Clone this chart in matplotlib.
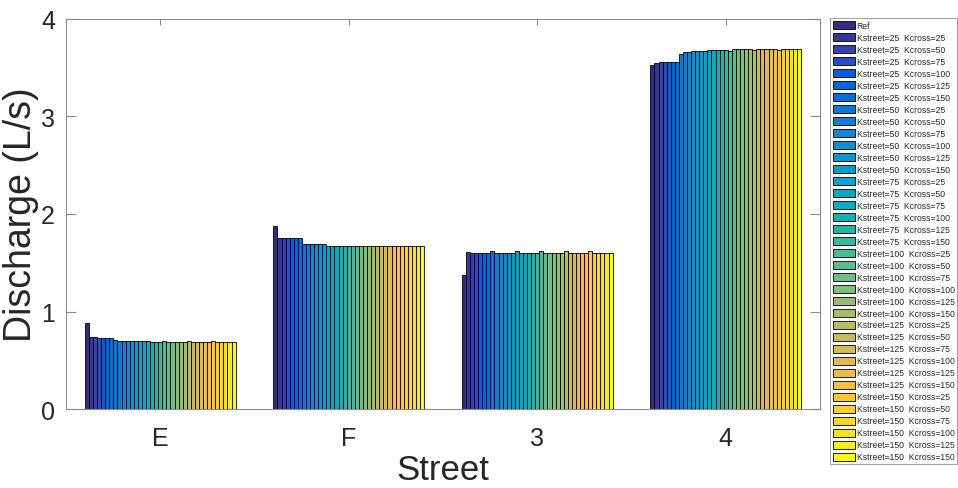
import numpy as np
import matplotlib
matplotlib.use("Agg")
import matplotlib.pyplot as plt
from matplotlib.colors import LinearSegmentedColormap

plt.rcParams['font.family'] = ['Liberation Sans', 'DejaVu Sans']

streets = ['E', 'F', '3', '4']
kstreet = [25, 50, 75, 100, 125, 150]
kcross = [25, 50, 75, 100, 125, 150]
series_labels = ['Ref'] + [f'Kstreet={s}  Kcross={c}' for s in kstreet for c in kcross]

# Each row: Ref, then Kstreet=25 (Kcross 25..150), Kstreet=50 ..., Kstreet=150
vals_E = [0.881,
          0.738, 0.738, 0.728, 0.728, 0.728, 0.728,
          0.710, 0.703, 0.703, 0.703, 0.703, 0.703,
          0.703, 0.697, 0.697, 0.690, 0.690, 0.690,
          0.697, 0.690, 0.690, 0.690, 0.690, 0.690,
          0.697, 0.690, 0.690, 0.690, 0.690, 0.690,
          0.697, 0.690, 0.690, 0.690, 0.690, 0.690]
vals_F = [1.880,
          1.757, 1.757, 1.757, 1.757, 1.757, 1.757,
          1.693, 1.693, 1.693, 1.693, 1.693, 1.693,
          1.676, 1.676, 1.676, 1.676, 1.676, 1.676,
          1.676, 1.676, 1.676, 1.676, 1.676, 1.676,
          1.669, 1.669, 1.669, 1.669, 1.669, 1.669,
          1.669, 1.669, 1.669, 1.669, 1.669, 1.669]
vals_3 = [1.379,
          1.611, 1.604, 1.604, 1.598, 1.598, 1.598,
          1.618, 1.604, 1.604, 1.604, 1.604, 1.604,
          1.618, 1.601, 1.601, 1.601, 1.601, 1.601,
          1.618, 1.601, 1.601, 1.601, 1.601, 1.601,
          1.618, 1.601, 1.601, 1.601, 1.601, 1.601,
          1.618, 1.601, 1.601, 1.601, 1.601, 1.601]
vals_4 = [3.525,
          3.546, 3.556, 3.556, 3.558, 3.558, 3.558,
          3.641, 3.655, 3.655, 3.665, 3.665, 3.665,
          3.667, 3.679, 3.679, 3.679, 3.679, 3.679,
          3.668, 3.686, 3.686, 3.692, 3.692, 3.692,
          3.675, 3.686, 3.692, 3.692, 3.692, 3.692,
          3.675, 3.692, 3.692, 3.692, 3.692, 3.692]

data = np.array([vals_E, vals_F, vals_3, vals_4])  # groups x series

# MATLAB parula colormap (style)
parula_pts = [
    (0.2081, 0.1663, 0.5292), (0.2116, 0.1898, 0.5777), (0.2123, 0.2138, 0.6270),
    (0.2081, 0.2386, 0.6771), (0.1959, 0.2645, 0.7279), (0.1707, 0.2919, 0.7792),
    (0.1253, 0.3242, 0.8303), (0.0591, 0.3598, 0.8683), (0.0117, 0.3875, 0.8820),
    (0.0060, 0.4086, 0.8828), (0.0165, 0.4266, 0.8786), (0.0329, 0.4430, 0.8720),
    (0.0498, 0.4586, 0.8641), (0.0629, 0.4737, 0.8554), (0.0723, 0.4887, 0.8467),
    (0.0779, 0.5040, 0.8384), (0.0793, 0.5200, 0.8312), (0.0749, 0.5375, 0.8263),
    (0.0641, 0.5570, 0.8240), (0.0488, 0.5772, 0.8228), (0.0343, 0.5966, 0.8199),
    (0.0265, 0.6137, 0.8135), (0.0239, 0.6287, 0.8038), (0.0231, 0.6418, 0.7913),
    (0.0228, 0.6535, 0.7768), (0.0267, 0.6642, 0.7607), (0.0384, 0.6743, 0.7436),
    (0.0590, 0.6838, 0.7254), (0.0843, 0.6928, 0.7062), (0.1133, 0.7015, 0.6859),
    (0.1453, 0.7098, 0.6646), (0.1801, 0.7177, 0.6424), (0.2178, 0.7250, 0.6193),
    (0.2586, 0.7317, 0.5954), (0.3022, 0.7376, 0.5712), (0.3482, 0.7424, 0.5473),
    (0.3953, 0.7459, 0.5244), (0.4420, 0.7481, 0.5033), (0.4871, 0.7491, 0.4840),
    (0.5300, 0.7491, 0.4661), (0.5709, 0.7485, 0.4494), (0.6099, 0.7473, 0.4337),
    (0.6473, 0.7456, 0.4188), (0.6834, 0.7435, 0.4044), (0.7184, 0.7411, 0.3905),
    (0.7525, 0.7384, 0.3768), (0.7858, 0.7356, 0.3633), (0.8185, 0.7327, 0.3498),
    (0.8507, 0.7299, 0.3360), (0.8824, 0.7274, 0.3217), (0.9139, 0.7258, 0.3063),
    (0.9450, 0.7261, 0.2886), (0.9739, 0.7314, 0.2666), (0.9938, 0.7455, 0.2403),
    (0.9990, 0.7653, 0.2164), (0.9955, 0.7861, 0.1967), (0.9880, 0.8066, 0.1794),
    (0.9789, 0.8271, 0.1633), (0.9697, 0.8481, 0.1475), (0.9626, 0.8705, 0.1309),
    (0.9589, 0.8949, 0.1132), (0.9598, 0.9218, 0.0948), (0.9661, 0.9514, 0.0755),
    (0.9763, 0.9831, 0.0538)]
parula = LinearSegmentedColormap.from_list('parula', parula_pts)

n_groups, n_series = data.shape
colors = [parula(t) for t in np.linspace(0, 1, n_series)]

fig = plt.figure(figsize=(9.58, 4.89), dpi=100)
ax = fig.add_axes([66/958, 1 - 410.4/489, (820 - 66)/958, (410.4 - 19.5)/489])

group_x = np.arange(1, n_groups + 1)
group_w = 0.8
bw = group_w / n_series
for j in range(n_series):
    xs = group_x - group_w/2 + (j + 0.5) * bw
    ax.bar(xs, data[:, j], width=bw, color=colors[j], edgecolor='black',
           linewidth=0.6, label=series_labels[j])

ax.set_xlim(0.5, 4.5)
ax.set_ylim(0, 4)
ax.set_yticks([0, 1, 2, 3, 4])
ax.set_xticks(group_x)
ax.set_xticklabels(streets)
ax.set_xlabel('Street', fontsize=25, color='#262626', labelpad=2)
ax.set_ylabel('Discharge (L/s)', fontsize=27, color='#262626', labelpad=1)
ax.tick_params(axis='both', direction='in', length=7, width=0.8,
               labelsize=18, top=True, right=True, labelcolor='#262626',
               color='#8c8c8c')
ax.tick_params(axis='x', length=4, pad=12)
ax.tick_params(axis='y', pad=8)
for sp in ax.spines.values():
    sp.set_color('#8c8c8c')
    sp.set_linewidth(0.8)

leg = fig.legend(loc='upper left', bbox_to_anchor=(830/958, 1 - 19/489),
                 fontsize=6.2, frameon=True, fancybox=False, edgecolor='#8c8c8c',
                 handlelength=2.55, handleheight=1.045, labelspacing=0.348,
                 borderpad=0.3, handletextpad=0.25, borderaxespad=0.0)
leg.get_frame().set_linewidth(0.8)
for t in leg.get_texts():
    t.set_color('#262626')

fig.savefig('out.png', dpi=100)
